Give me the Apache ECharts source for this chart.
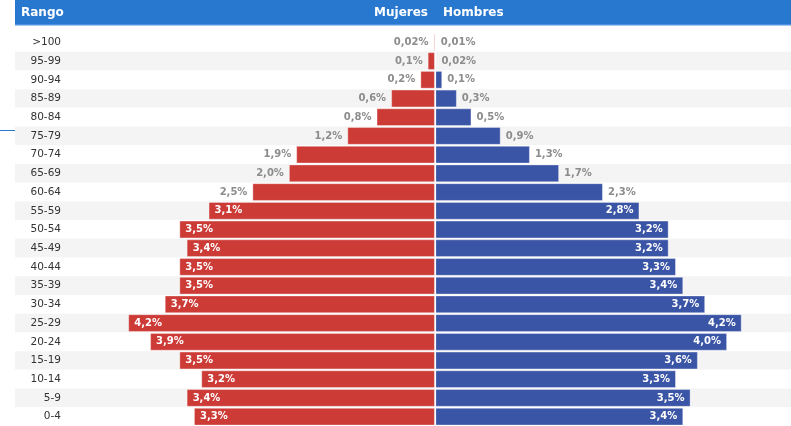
<!DOCTYPE html>
<html><head><meta charset="utf-8">
<script src="https://cdn.jsdelivr.net/npm/echarts@6/dist/echarts.min.js"></script>
<style>html,body{margin:0;padding:0;background:#fff;overflow:hidden}#c{width:791px;height:426px}</style>
</head><body><div id="c"></div>
<script>
const categories = ['>100','95-99','90-94','85-89','80-84','75-79','70-74','65-69','60-64','55-59','50-54','45-49','40-44','35-39','30-34','25-29','20-24','15-19','10-14','5-9','0-4'];
const mujeres = [0.02,0.1,0.2,0.6,0.8,1.2,1.9,2.0,2.5,3.1,3.5,3.4,3.5,3.5,3.7,4.2,3.9,3.5,3.2,3.4,3.3];
const hombres = [0.01,0.02,0.1,0.3,0.5,0.9,1.3,1.7,2.3,2.8,3.2,3.2,3.3,3.4,3.7,4.2,4.0,3.6,3.3,3.5,3.4];
const headerTitles = ['Rango','Mujeres','Hombres'];

const F = '"DejaVu Sans", Verdana, sans-serif';
const fmt = v => { const a = Math.abs(v); return (a < 0.1 ? a.toFixed(2) : a.toFixed(1)).replace('.', ',') + '%'; };
const RED = '#cd3b37', BLUE = '#3a54a6', GRAY = '#8c8c8c';

const redData = mujeres.map(v => {
  const inside = v >= 3;
  return { value: -v, label: { position: inside ? 'insideLeft' : 'left', color: inside ? '#fff' : GRAY, distance: inside ? 6 : 5 } };
});
const blueData = hombres.map(v => {
  const inside = v >= 2.5;
  return { value: v, label: { position: inside ? 'insideRight' : 'right', color: inside ? '#fff' : GRAY, distance: inside ? 6 : 5 } };
});

const labelBase = { show: true, fontFamily: F, fontWeight: 'bold', fontSize: 10, formatter: p => fmt(p.value) };

const chart = echarts.init(document.getElementById('c'), null, { renderer: 'canvas' });
chart.setOption({
  animation: false,
  backgroundColor: '#fff',
  grid: { left: 15, right: 0, top: 33, height: 395, containLabel: false },
  xAxis: { type: 'value', min: -5.75, max: 4.875, show: false },
  yAxis: {
    type: 'category', inverse: true, data: categories, offset: -54,
    axisLine: { show: false }, axisTick: { show: false },
    axisLabel: { color: '#333', fontSize: 10.5, fontFamily: F, margin: 8 },
    splitLine: { show: false },
    splitArea: { show: true, areaStyle: { color: ['#ffffff', '#f4f4f4'] } }
  },
  series: [
    { name: 'Mujeres', type: 'bar', stack: 'p', data: redData, barCategoryGap: '5%',
      itemStyle: { color: RED, borderColor: 'rgba(255,255,255,0.35)', borderWidth: 1 },
      label: labelBase,
      markLine: { silent: true, symbol: 'none', label: { show: false },
        lineStyle: { color: '#fff', width: 1.2, type: 'solid' }, data: [{ xAxis: 0 }] } },
    { name: 'Hombres', type: 'bar', stack: 'p', data: blueData, barCategoryGap: '5%',
      itemStyle: { color: BLUE, borderColor: 'rgba(255,255,255,0.35)', borderWidth: 1 },
      label: labelBase }
  ],
  graphic: [
    { type: 'rect', shape: { x: 15, y: 0, width: 776, height: 24 }, style: { fill: '#2878d0' }, z: 10 },
    { type: 'rect', shape: { x: 15, y: 24, width: 776, height: 1.5 }, style: { fill: '#4b92e2' }, z: 10 },
    { type: 'line', shape: { x1: 0, y1: 130.5, x2: 15, y2: 130.5 }, style: { stroke: '#2a7ad0', lineWidth: 1 }, z: 10 },
    { type: 'text', z: 11, style: { text: headerTitles[0], x: 21, y: 13, fill: '#fff', font: 'bold 12px ' + F, align: 'left', verticalAlign: 'middle', textAlign: 'left', textVerticalAlign: 'middle' } },
    { type: 'text', z: 11, style: { text: headerTitles[1], x: 428, y: 13, fill: '#fff', font: 'bold 12px ' + F, align: 'right', verticalAlign: 'middle', textAlign: 'right', textVerticalAlign: 'middle' } },
    { type: 'text', z: 11, style: { text: headerTitles[2], x: 443, y: 13, fill: '#fff', font: 'bold 12px ' + F, align: 'left', verticalAlign: 'middle', textAlign: 'left', textVerticalAlign: 'middle' } }
  ]
});
</script></body></html>
